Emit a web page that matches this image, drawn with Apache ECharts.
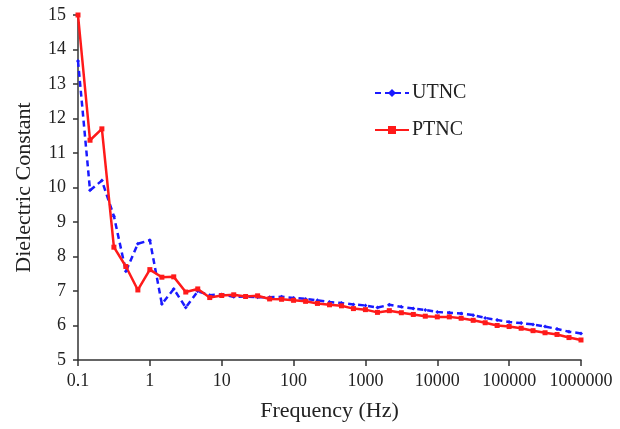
<!DOCTYPE html>
<html>
<head>
<meta charset="utf-8">
<script src="https://cdn.jsdelivr.net/npm/echarts@6/dist/echarts.min.js"></script>
<style>
html,body{margin:0;padding:0;background:#fff;}
#chart{width:620px;height:429px;}
</style>
</head>
<body>
<div id="chart"></div>
<script>
const freqs = [0.1, 0.147, 0.215, 0.316, 0.464, 0.681, 1, 1.47, 2.15, 3.16, 4.64, 6.81,
  10, 14.7, 21.5, 31.6, 46.4, 68.1, 100, 147, 215, 316, 464, 681,
  1000, 1470, 2150, 3160, 4640, 6810, 10000, 14700, 21500, 31600, 46400, 68100,
  100000, 147000, 215000, 316000, 464000, 681000, 1000000];
const utnc = [13.67, 9.92, 10.2, 9.17, 7.57, 8.37, 8.47, 6.62, 7.06, 6.52, 6.99, 6.88,
  6.90, 6.83, 6.84, 6.82, 6.82, 6.83, 6.80, 6.77, 6.73, 6.68,
  6.65, 6.61, 6.58, 6.52, 6.60, 6.54, 6.49, 6.45, 6.39, 6.37,
  6.35, 6.30, 6.22, 6.16, 6.10, 6.07, 6.03, 5.97, 5.90, 5.82, 5.77];
const ptnc = [15.0, 11.37, 11.7, 8.27, 7.71, 7.03, 7.62, 7.40, 7.41, 6.97, 7.06, 6.81,
  6.87, 6.89, 6.84, 6.86, 6.77, 6.76, 6.73, 6.70, 6.64, 6.60,
  6.57, 6.49, 6.46, 6.38, 6.43, 6.37, 6.32, 6.27, 6.25, 6.25,
  6.21, 6.15, 6.08, 6.00, 5.97, 5.92, 5.85, 5.79, 5.74, 5.65, 5.58];
const xTickLabels = ['0.1', '1', '10', '100', '1000', '10000', '100000', '1000000'];
const seriesNames = ['UTNC', 'PTNC'];

const font = 'Liberation Serif';
const chart = echarts.init(document.getElementById('chart'), null, {renderer: 'canvas'});
const pair = (vals) => freqs.map((f, i) => [f, vals[i]]);

chart.setOption({
  animation: false,
  backgroundColor: '#fff',
  grid: {left: 78, right: 39, top: 15, bottom: 69, containLabel: false},
  legend: {
    orient: 'vertical',
    left: 369,
    top: 78,
    itemWidth: 34,
    itemHeight: 10,
    itemGap: 17,
    data: seriesNames,
    textStyle: {fontFamily: font, fontSize: 20, color: '#222', padding: [0, 0, 0, -2]}
  },
  xAxis: {
    type: 'log',
    logBase: 10,
    min: 0.1,
    max: 1000000,
    interval: 1,
    name: 'Frequency (Hz)',
    nameLocation: 'middle',
    nameGap: 40,
    nameTextStyle: {fontFamily: font, fontSize: 22, color: '#222'},
    axisLine: {lineStyle: {color: '#333', width: 1.5}},
    axisTick: {show: true, length: 6, lineStyle: {color: '#333', width: 1.5}},
    splitLine: {show: false},
    minorTick: {show: false},
    axisLabel: {
      fontFamily: font, fontSize: 18, color: '#222', margin: 12,
      formatter: (v) => xTickLabels[Math.round(Math.log10(v)) + 1]
    }
  },
  yAxis: {
    type: 'value',
    min: 5,
    max: 15,
    interval: 1,
    name: 'Dielectric Constant',
    nameLocation: 'middle',
    nameGap: 43,
    nameTextStyle: {fontFamily: font, fontSize: 22, color: '#222'},
    axisLine: {show: true, lineStyle: {color: '#333', width: 1.5}},
    axisTick: {show: true, length: 5, lineStyle: {color: '#333', width: 1.5}},
    splitLine: {show: false},
    axisLabel: {fontFamily: font, fontSize: 18, color: '#222', margin: 12}
  },
  series: [
    {
      name: seriesNames[0],
      type: 'line',
      data: pair(utnc),
      symbol: 'diamond',
      symbolSize: 4,
      showAllSymbol: true,
      itemStyle: {color: '#1a1aff'},
      lineStyle: {color: '#1a1aff', width: 2.5, type: [6, 4]}
    },
    {
      name: seriesNames[1],
      type: 'line',
      data: pair(ptnc),
      symbol: 'rect',
      symbolSize: 5,
      showAllSymbol: true,
      itemStyle: {color: '#ff1a1a'},
      lineStyle: {color: '#ff1a1a', width: 2.5}
    }
  ]
});
</script>
</body>
</html>
